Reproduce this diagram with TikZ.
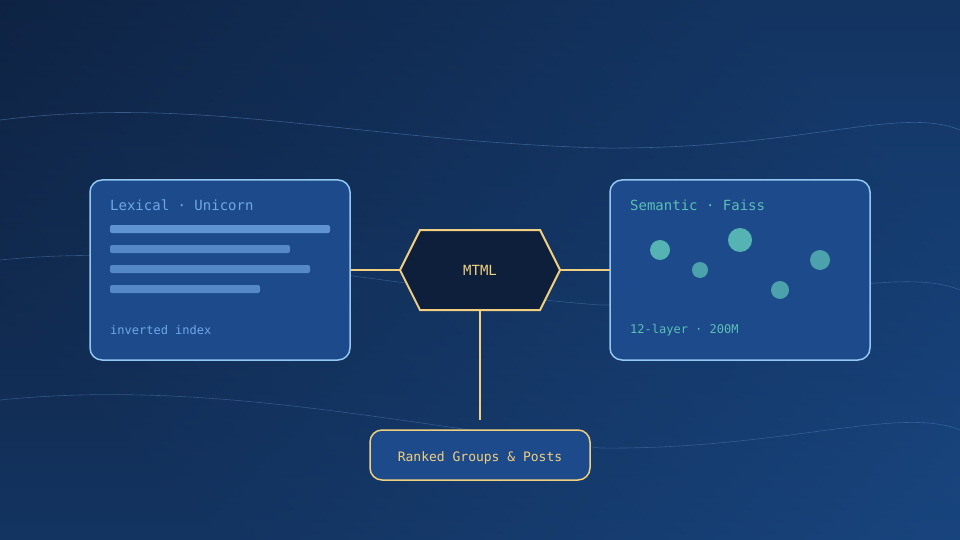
\documentclass[tikz,border=0pt]{standalone}
\usepackage{fontspec}
\setmonofont{DejaVu Sans Mono}
\usetikzlibrary{positioning,calc}
\definecolor{bgtop}{HTML}{0D1D38}
\definecolor{bgbot}{HTML}{1A4B8A}
\definecolor{panel}{HTML}{1C4A8A}
\definecolor{panelrim}{HTML}{93C8F2}
\definecolor{gold}{HTML}{F0D080}
\definecolor{hexfill}{HTML}{0E1F3B}
\definecolor{bar}{HTML}{5F93D2}
\definecolor{lextext}{HTML}{6FA8E8}
\definecolor{teal}{HTML}{5CBFB8}
\definecolor{wave}{HTML}{4F7DB5}
\begin{document}
\begin{tikzpicture}[x=1pt, y=-1pt,
    panel/.style = {draw=panelrim, line width=1.5pt, fill=panel, rounded corners=12pt},
    hub/.style = {draw=gold, line width=2pt, fill=hexfill},
    link/.style = {draw=gold, line width=1.5pt},
    bar/.style = {fill=bar, rounded corners=2pt},
    dot/.style = {circle, fill=teal, opacity=0.9, inner sep=0pt},
    label/.style = {font=\ttfamily, inner sep=0pt, anchor=west}
]
    % Background
    \shade[left color=bgtop, right color=bgbot, shading angle=135] (0,0) rectangle (960,540);
    \useasboundingbox (0,0) rectangle (960,540);
    \shade[top color=bgtop, bottom color=bgbot, opacity=0.5] (0,0) rectangle (960,540);

    % Waves
    \draw[wave, opacity=0.6, line width=0.6pt] (0,120) .. controls (200,95) and (350,140) .. (600,148) .. controls (800,150) and (900,105) .. (960,130);
    \draw[wave, opacity=0.5, line width=0.6pt] (0,260) .. controls (200,240) and (400,290) .. (600,305) .. controls (780,305) and (900,265) .. (960,290);
    \draw[wave, opacity=0.5, line width=0.6pt] (0,400) .. controls (200,380) and (380,420) .. (600,448) .. controls (780,450) and (900,405) .. (960,430);

    % Connectors
    \coordinate (hubL) at (400,270);
    \coordinate (hubR) at (560,270);
    \coordinate (hubB) at (480,310);
    \draw[link] (350,270) coordinate (lexR) -- (hubL);
    \draw[link] (hubR) -- (610,270) coordinate (semL);
    \draw[link] (hubB) -- (480,420) coordinate (outT);

    % Lexical panel
    \draw[panel] (90,180) rectangle (350,360);
    \node[label, text=lextext, font=\ttfamily\fontsize{14}{16}\selectfont] (lextitle) at (110,205) {Lexical · Unicorn};
    \fill[bar] (110,225) rectangle (330,233);
    \fill[bar, opacity=0.85] (110,245) rectangle (290,253);
    \fill[bar, opacity=0.85] (110,265) rectangle (310,273);
    \fill[bar, opacity=0.85] (110,285) rectangle (260,293);
    \node[label, text=lextext, font=\ttfamily\fontsize{12}{14}\selectfont] (lexnote) at (110,330) {inverted index};

    % Semantic panel
    \draw[panel] (610,180) rectangle (870,360);
    \node[label, text=teal, font=\ttfamily\fontsize{14}{16}\selectfont] (semtitle) at (630,205) {Semantic · Faiss};
    \node[dot, minimum size=20pt] (d1) at (660,250) {};
    \node[dot, minimum size=24pt] (d2) at (740,240) {};
    \node[dot, minimum size=16pt, opacity=0.75] (d3) at (700,270) {};
    \node[dot, minimum size=20pt, opacity=0.75] (d4) at (820,260) {};
    \node[dot, minimum size=18pt, opacity=0.75] (d5) at (780,290) {};
    \node[label, text=teal, font=\ttfamily\fontsize{12}{14}\selectfont] (semnote) at (630,330) {12-layer · 200M};

    % Hub
    \draw[hub] (400,270) -- (420,230) -- (540,230) -- (560,270) -- (540,310) -- (420,310) -- cycle;
    \node[font=\ttfamily\fontsize{14}{16}\selectfont, text=gold] (mtml) at (480,270) {MTML};

    % Output
    \draw[panel, draw=gold] (370,430) rectangle (590,480);
    \node[font=\ttfamily\fontsize{13}{15}\selectfont, text=gold] (ranked) at (480,458) {Ranked Groups \& Posts};
\end{tikzpicture}
\end{document}
